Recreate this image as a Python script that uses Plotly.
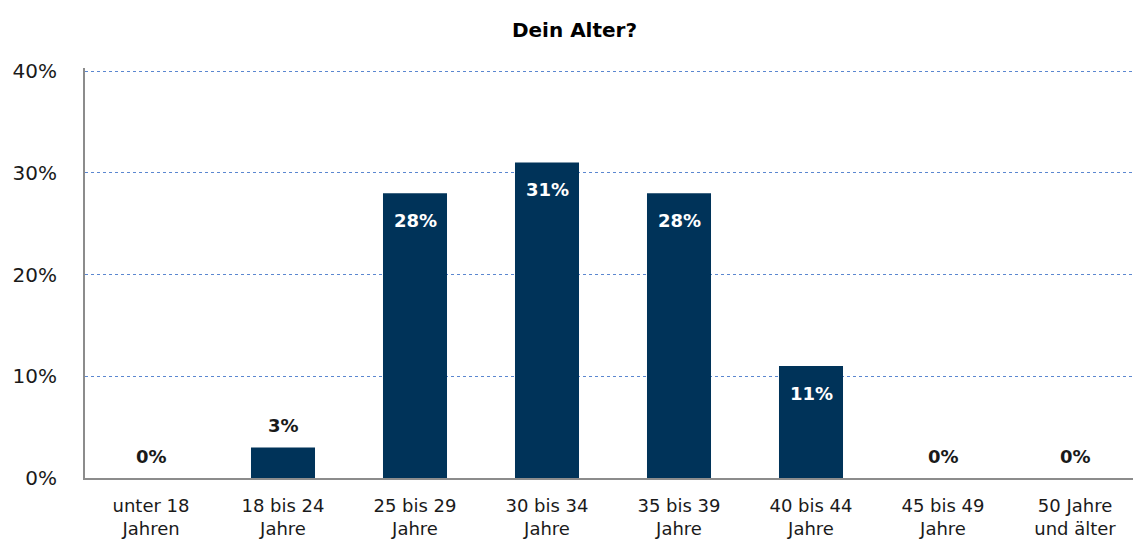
import plotly.graph_objects as go

categories = ["unter 18<br>Jahren", "18 bis 24<br>Jahre", "25 bis 29<br>Jahre", "30 bis 34<br>Jahre",
              "35 bis 39<br>Jahre", "40 bis 44<br>Jahre", "45 bis 49<br>Jahre", "50 Jahre<br>und älter"]
values = [0, 3, 28, 31, 28, 11, 0, 0]
y_ticks = [0, 10, 20, 30, 40]
y_tick_labels = ["0%", "10%", "20%", "30%", "40%"]

BAR = "#003359"
LABEL_FONT = "'DejaVu Sans', sans-serif"

fig = go.Figure(go.Bar(x=categories, y=values, marker=dict(color=BAR, line=dict(width=0)), width=0.485))

for c, v in zip(categories, values):
    inside = v > 5
    fig.add_annotation(x=c, y=v, text=f"<b>{v}%</b>", showarrow=False,
                       yanchor="middle", yshift=-27 if inside else 22,
                       font=dict(family=LABEL_FONT, size=18, color="white" if inside else "#1a1a1a"))

fig.update_layout(
    width=1133, height=539,
    margin=dict(l=77, r=0, t=60, b=69, autoexpand=False),
    paper_bgcolor="white", plot_bgcolor="white",
    title=dict(text="<b>Dein Alter?</b>", x=0.5, xanchor="center", y=0.959, yanchor="middle",
               font=dict(family=LABEL_FONT, size=20, color="black")),
    showlegend=False,
    xaxis=dict(showline=True, linecolor="#8c8c8c", linewidth=2, ticks="", automargin=False,
               ticklabelstandoff=10,
               tickfont=dict(family=LABEL_FONT, size=18, color="#1a1a1a")),
    yaxis=dict(range=[0, 40.3], tickvals=y_ticks, ticktext=y_tick_labels, automargin=False,
               showline=True, linecolor="#8c8c8c", linewidth=2,
               showgrid=True, gridcolor="#5b87d0", griddash="dot", gridwidth=1,
               ticks="", ticklabelstandoff=22, zeroline=False,
               tickfont=dict(family=LABEL_FONT, size=20, color="#1a1a1a")),
)

fig.write_html("out.html")
